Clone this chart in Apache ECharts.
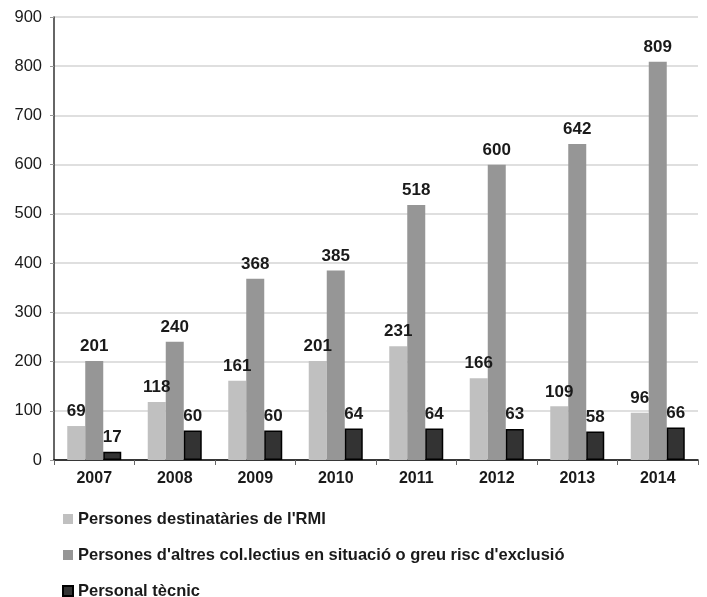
<!DOCTYPE html>
<html>
<head>
<meta charset="utf-8">
<script src="https://cdn.jsdelivr.net/npm/echarts@6/dist/echarts.min.js"></script>
<style>
  html, body { margin: 0; padding: 0; background: #fff; }
  #chart { width: 707px; height: 597px; }
</style>
</head>
<body>
<div id="chart"></div>
<script>
// Data
var years = ['2007', '2008', '2009', '2010', '2011', '2012', '2013', '2014'];
var rmi = [69, 118, 161, 201, 231, 166, 109, 96];
var altres = [201, 240, 368, 385, 518, 600, 642, 809];
var tecnic = [17, 60, 60, 64, 64, 63, 58, 66];
var seriesNames = [
  'Persones destinatàries de l\'RMI',
  'Persones d\'altres col.lectius en situació o greu risc d\'exclusió',
  'Personal tècnic'
];

(function() {
  var font = 'Liberation Sans, Arial, sans-serif';
  var ink = '#1a1a1a';
  var labelStyle = {
    show: true,
    position: 'top',
    distance: 6,
    color: ink,
    fontFamily: font,
    fontSize: 17,
    fontWeight: 'bold'
  };

  var chart = echarts.init(document.getElementById('chart'), null, { renderer: 'canvas' });
  chart.setOption({
    animation: false,
    grid: { left: 54, right: 9, top: 17, bottom: 137 },
    legend: {
      orient: 'vertical',
      left: 62,
      top: 509,
      height: 120,
      padding: 0,
      itemGap: 16,
      itemWidth: 10,
      itemHeight: 10,
      icon: 'rect',
      textStyle: { color: ink, fontFamily: font, fontSize: 16.5, fontWeight: 'bold', lineHeight: 20 },
      data: seriesNames
    },
    xAxis: {
      type: 'category',
      data: years,
      axisLine: { lineStyle: { color: '#000', width: 1.5 } },
      axisTick: { show: true, length: 5, lineStyle: { color: '#666' } },
      axisLabel: { color: ink, fontFamily: font, fontSize: 16, fontWeight: 'bold', margin: 11 }
    },
    yAxis: {
      type: 'value',
      min: 0,
      max: 900,
      interval: 100,
      axisLine: { show: true, lineStyle: { color: '#333', width: 1.5 } },
      axisTick: { show: true, length: 4, lineStyle: { color: '#999' } },
      axisLabel: { color: ink, fontFamily: font, fontSize: 16.5, margin: 12 },
      splitLine: { lineStyle: { color: '#d4d4d4', width: 1.5 } }
    },
    series: [
      {
        name: seriesNames[0],
        type: 'bar',
        data: rmi,
        barWidth: 18,
        barGap: '0%',
        itemStyle: { color: '#c0c0c0' },
        label: labelStyle
      },
      {
        name: seriesNames[1],
        type: 'bar',
        data: altres,
        barWidth: 18,
        barGap: '0%',
        itemStyle: { color: '#969696' },
        label: labelStyle
      },
      {
        name: seriesNames[2],
        type: 'bar',
        data: tecnic,
        barWidth: 18,
        barGap: '0%',
        itemStyle: { color: '#333333', borderColor: '#000', borderWidth: 1.5 },
        label: labelStyle
      }
    ]
  });
  window.addEventListener('resize', function() { chart.resize(); });
})();
</script>
</body>
</html>
